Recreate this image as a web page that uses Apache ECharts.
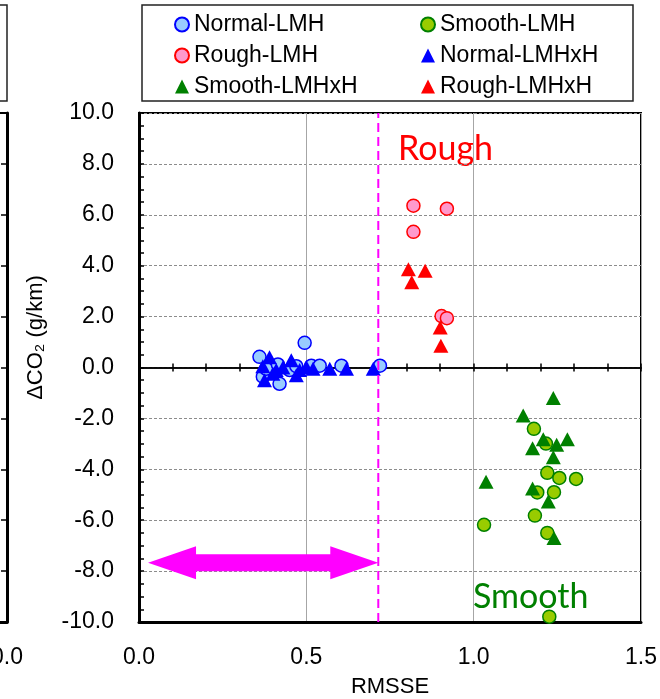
<!DOCTYPE html>
<html>
<head>
<meta charset="utf-8">
<script src="https://cdn.jsdelivr.net/npm/echarts/dist/echarts.min.js"></script>
<style>
html, body { margin: 0; padding: 0; background: #fff; }
#chartContent { width: 660px; height: 699px; }
</style>
</head>
<body>
<div id="chartContent"></div>
<script>
// data: [RMSSE, dCO2]
var normalLMH = [[0.36, 0.42], [0.37, -0.36], [0.38, -0.05], [0.415, 0.12], [0.42, -0.64], [0.45, -0.1],
	[0.47, 0.05], [0.495, 0.97], [0.515, 0.07], [0.54, 0.07], [0.605, 0.07], [0.72, 0.07]];
var smoothLMH = [[1.18, -2.41], [1.216, -2.99], [1.22, -4.14], [1.256, -4.34], [1.306, -4.38], [1.19, -4.91],
	[1.24, -4.9], [1.183, -5.82], [1.031, -6.18], [1.22, -6.5], [1.226, -9.79]];
var roughLMH = [[0.82, 6.36], [0.92, 6.24], [0.82, 5.33], [0.904, 2.02], [0.92, 1.94]];
var normalLMHxH = [[0.37, 0.05], [0.375, -0.5], [0.39, 0.4], [0.40, -0.25], [0.41, -0.1], [0.43, 0.0],
	[0.455, 0.28], [0.47, -0.3], [0.48, -0.1], [0.5, 0.02], [0.52, -0.05], [0.57, -0.05], [0.62, -0.05], [0.70, -0.05]];
var smoothLMHxH = [[1.238, -1.2], [1.148, -1.89], [1.208, -2.82], [1.176, -3.17], [1.248, -3.04], [1.28, -2.82],
	[1.238, -3.53], [1.037, -4.49], [1.176, -4.75], [1.223, -5.27], [1.24, -6.7]];
var roughLMHxH = [[0.805, 3.86], [0.855, 3.8], [0.815, 3.35], [0.90, 1.57], [0.902, 0.85]];

var xRange = [0, 1.5];
var yRange = [-10, 10];
var threshold = [[0.715, -10], [0.715, 10]];		// magenta dashed line
var arrowData = [[0.027, 0.715, -7.67]];		// x from, x to, y
var regionLabels = ['Rough', 'Smooth'];

var font = 'Liberation Sans';
var fmt1 = function(v) { return v.toFixed(1); };

var circle = function(name, data, fill, border) {
	return {
		name: name, type: 'scatter', data: data, symbol: 'circle', symbolSize: 13,
		xAxisIndex: 0, yAxisIndex: 0,
		itemStyle: { color: fill, borderColor: border, borderWidth: 1.5, opacity: 1 }
	};
};
var tri = function(name, data, color) {
	return {
		name: name, type: 'scatter', data: data, symbol: 'triangle', symbolSize: [15, 14],
		xAxisIndex: 0, yAxisIndex: 0,
		itemStyle: { color: color, opacity: 1 }
	};
};

var legendBase = {
	orient: 'vertical', top: 8, itemGap: 8, itemWidth: 14, itemHeight: 14,
	selectedMode: false,
	textStyle: { fontFamily: font, fontSize: 23, color: '#000' }
};

var option = {
	animation: false,
	backgroundColor: '#fff',
	legend: [
		Object.assign({}, legendBase, { left: 169, data: ['Normal-LMH', 'Rough-LMH', 'Smooth-LMHxH'] }),
		Object.assign({}, legendBase, { left: 415, data: ['Smooth-LMH', 'Normal-LMHxH', 'Rough-LMHxH'] })
	],
	grid: [
		{ left: 139, top: 113, width: 502, height: 509, show: true, borderColor: '#000', borderWidth: 2, outerBoundsMode: 'none' },
		{ left: 139, top: 113, width: 502, height: 509, outerBoundsMode: 'none' },
		// cut-off neighbour panel on the left edge
		{ left: -400, top: 113, width: 407, height: 509, show: true, borderColor: '#000', borderWidth: 2, outerBoundsMode: 'none' }
	],
	xAxis: [
		{
			type: 'value', gridIndex: 0, min: xRange[0], max: xRange[1], interval: 0.5, position: 'bottom',
			name: 'RMSSE', nameLocation: 'middle', nameGap: 54,
			nameTextStyle: { fontFamily: font, fontSize: 22, color: '#000' },
			axisLine: { onZero: false, lineStyle: { color: '#000', width: 3 } },
			axisTick: { show: false },
			axisLabel: { formatter: fmt1, margin: 24, fontFamily: font, fontSize: 23, color: '#000' },
			splitLine: { show: true, lineStyle: { color: '#A6A6A6', width: 1 } }
		},
		{	// zero line, ticks pointing up
			type: 'value', gridIndex: 0, min: xRange[0], max: xRange[1], interval: 0.1, position: 'top',
			axisLine: { onZero: true, lineStyle: { color: '#000', width: 1.5 } },
			axisTick: { show: true, length: 4, lineStyle: { color: '#000', width: 1.5 } },
			axisLabel: { show: false }, splitLine: { show: false }
		},
		{	// zero line, ticks pointing down
			type: 'value', gridIndex: 1, min: xRange[0], max: xRange[1], interval: 0.1, position: 'bottom',
			axisLine: { onZero: true, lineStyle: { color: '#000', width: 1.5 } },
			axisTick: { show: true, length: 4, lineStyle: { color: '#000', width: 1.5 } },
			axisLabel: { show: false }, splitLine: { show: false }
		},
		{
			type: 'value', gridIndex: 2, min: -1.5, max: 0, interval: 0.5,
			axisLine: { onZero: false, lineStyle: { color: '#000', width: 3 } },
			axisTick: { show: false },
			axisLabel: { formatter: function(v) { return v == 0 ? '0.0' : ''; }, margin: 24, fontFamily: font, fontSize: 23, color: '#000' },
			splitLine: { show: false }
		}
	],
	yAxis: [
		{
			type: 'value', gridIndex: 0, min: yRange[0], max: yRange[1], interval: 2,
			name: 'ΔCO₂ (g/km)', nameLocation: 'middle', nameGap: 92,
			nameTextStyle: { fontFamily: font, fontSize: 22, color: '#000', padding: [0, 0, 0, 60] },
			axisLine: { onZero: false, lineStyle: { color: '#000', width: 3 } },
			axisTick: { show: true, inside: true, length: 5, lineStyle: { color: '#000', width: 1.5 } },
			minorTick: { show: true, splitNumber: 4, length: 5, lineStyle: { color: '#000', width: 1.5 } },
			axisLabel: { formatter: fmt1, margin: 25, fontFamily: font, fontSize: 23, color: '#000' },
			splitLine: { show: true, lineStyle: { color: '#8C8C8C', width: 1, type: [3, 2] } }
		},
		{ type: 'value', gridIndex: 1, min: yRange[0], max: yRange[1], show: false },
		{
			type: 'value', gridIndex: 2, min: yRange[0], max: yRange[1], interval: 2, position: 'right',
			axisLine: { onZero: false, lineStyle: { color: '#000', width: 3 } },
			axisTick: { show: true, inside: true, length: 6, lineStyle: { color: '#000', width: 1.5 } },
			axisLabel: { show: false }, splitLine: { show: false }
		}
	],
	graphic: [
		{ type: 'rect', shape: { x: 142, y: 5, width: 491, height: 96 }, style: { fill: 'none', stroke: '#222', lineWidth: 1.5 } },
		{ type: 'rect', shape: { x: -60, y: 5, width: 67, height: 96 }, style: { fill: 'none', stroke: '#222', lineWidth: 1.5 } },
		{ type: 'text', x: 398, y: 149, style: { text: regionLabels[0], fill: '#FF0000', font: '34px Lato', verticalAlign: 'middle' } },
		{ type: 'text', x: 473, y: 597, style: { text: regionLabels[1], fill: '#008000', font: '34px Lato', verticalAlign: 'middle' } }
	],
	series: [
		circle('Normal-LMH', normalLMH, '#99CCFF', '#0000FF'),
		circle('Smooth-LMH', smoothLMH, '#99CC00', '#008000'),
		circle('Rough-LMH', roughLMH, '#FF99CC', '#FF0000'),
		tri('Normal-LMHxH', normalLMHxH, '#0000FF'),
		tri('Smooth-LMHxH', smoothLMHxH, '#008000'),
		tri('Rough-LMHxH', roughLMHxH, '#FF0000'),
		{
			type: 'line', data: threshold, xAxisIndex: 0, yAxisIndex: 0, symbol: 'none', silent: true,
			lineStyle: { color: '#FF00FF', width: 2, type: [9, 5] }, z: 5
		},
		{
			type: 'custom', data: arrowData, xAxisIndex: 0, yAxisIndex: 0, silent: true, z: 5,
			encode: { x: [0, 1], y: 2 },
			renderItem: function(params, api) {
				var p0 = api.coord([api.value(0), api.value(2)]);
				var p1 = api.coord([api.value(1), api.value(2)]);
				var hl = 48, hh = 16.5, sh = 8.5, y = p0[1];
				return {
					type: 'polygon',
					shape: { points: [
						[p0[0], y], [p0[0] + hl, y - hh], [p0[0] + hl, y - sh], [p1[0] - hl, y - sh], [p1[0] - hl, y - hh],
						[p1[0], y], [p1[0] - hl, y + hh], [p1[0] - hl, y + sh], [p0[0] + hl, y + sh], [p0[0] + hl, y + hh]
					] },
					style: { fill: '#FF00FF' }
				};
			}
		}
	]
};

var chart = echarts.init(document.getElementById('chartContent'));
chart.setOption(option);
</script>
</body>
</html>
